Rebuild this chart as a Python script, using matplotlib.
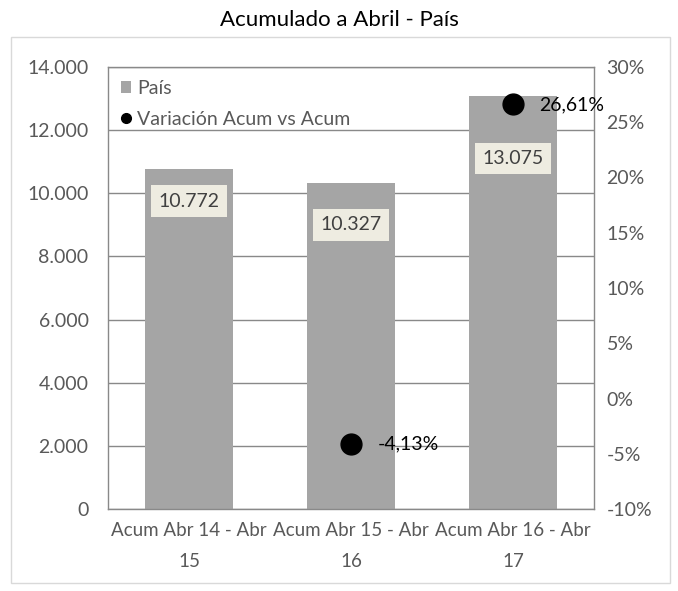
import matplotlib
matplotlib.use("Agg")
import matplotlib.pyplot as plt
from matplotlib.lines import Line2D
from matplotlib.patches import Rectangle, Patch
from matplotlib.ticker import FuncFormatter, MultipleLocator

# datos
categorias = ["Acum Abr 14 - Abr\n15", "Acum Abr 15 - Abr\n16", "Acum Abr 16 - Abr\n17"]
pais = [10772, 10327, 13075]
variacion = [None, -4.13, 26.61]
etiquetas_pais = ["10.772", "10.327", "13.075"]
etiquetas_var = ["", "-4,13%", "26,61%"]
# altura (en unidades del eje) donde Excel dejo las etiquetas
pos_etiqueta = [9750, 9000, 11100]

plt.rcParams['font.family'] = ['Lato', 'DejaVu Sans']
plt.rcParams['font.size'] = 14

gris_barra = "#A5A5A5"
gris_linea = "#898989"
gris_texto = "#595959"

fig = plt.figure(figsize=(6.78, 5.91), dpi=100)
ax = fig.add_axes([108 / 678, 1 - 509 / 591, 486 / 678, 442 / 591])

# borde exterior del grafico
fig.patches.append(Rectangle((11 / 678, 1 - 583 / 591), 659 / 678, 546 / 591,
                             transform=fig.transFigure, fill=False,
                             edgecolor="#D9D9D9", lw=1.0))
fig.text(0.5, 1 - 20 / 591, "Acumulado a Abril - País", ha="center", va="center",
         fontsize=16, color="black")

x = range(len(categorias))
ax.bar(x, pais, width=0.54, color=gris_barra, zorder=2)
ax.set_xlim(-0.5, 2.5)
ax.set_ylim(0, 14000)
ax.yaxis.set_major_locator(MultipleLocator(2000))
ax.yaxis.set_major_formatter(FuncFormatter(lambda v, p: f"{int(v):,}".replace(",", ".")))
ax.grid(axis="y", color=gris_linea, lw=1.0, zorder=0)
ax.set_xticks(list(x))
ax.set_xticklabels(categorias, linespacing=2.05, fontsize=13.5)
ax.tick_params(axis="both", length=0, colors=gris_texto)
ax.tick_params(axis="y", pad=14, labelsize=14)
ax.tick_params(axis="x", pad=9)
for s in ax.spines.values():
    s.set_color(gris_linea)
    s.set_linewidth(1.0)

for i in x:
    ax.text(i, pos_etiqueta[i], etiquetas_pais[i], ha="center", va="center",
            color="#404040", fontsize=14, zorder=5,
            bbox=dict(boxstyle="square,pad=0.38", fc="#EEECE1", ec="none"))

ax2 = ax.twinx()
ax2.set_ylim(-10, 30)
ax2.yaxis.set_major_locator(MultipleLocator(5))
ax2.yaxis.set_major_formatter(FuncFormatter(lambda v, p: f"{int(round(v))}%"))
ax2.tick_params(axis="y", length=0, colors=gris_texto, labelsize=14, pad=9)
for s in ax2.spines.values():
    s.set_visible(False)
for i in x:
    if variacion[i] is None:
        continue
    ax2.plot(i, variacion[i], "o", color="black", markersize=15, zorder=4)
    ax2.annotate(etiquetas_var[i], (i, variacion[i]), xytext=(19, 0),
                 textcoords="offset points", ha="left", va="center",
                 color="black", fontsize=14)

handles = [Patch(facecolor=gris_barra, edgecolor="none"),
           Line2D([], [], marker="o", color="black", ls="none", markersize=7)]
leg = ax.legend(handles, ["País", "Variación Acum vs Acum"], loc="upper left",
                bbox_to_anchor=(0.0, 1.0), frameon=False, handlelength=0.55,
                handleheight=0.55, handletextpad=0.3, labelspacing=0.72,
                borderaxespad=0.25, fontsize=14)
for t in leg.get_texts():
    t.set_color(gris_texto)
leg.set_zorder(6)

fig.savefig("out.png", dpi=100)
